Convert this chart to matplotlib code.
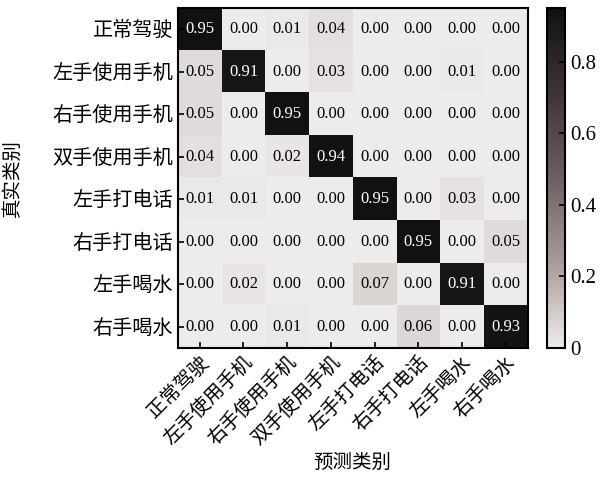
import numpy as np
import matplotlib
matplotlib.use('Agg')
import matplotlib.pyplot as plt
from matplotlib.colors import LinearSegmentedColormap

plt.rcParams['font.family'] = ['Liberation Serif', 'Noto Sans CJK SC']

# 类别
labels = ['正常驾驶', '左手使用手机', '右手使用手机', '双手使用手机',
          '左手打电话', '右手打电话', '左手喝水', '右手喝水']

# 混淆矩阵（归一化）
row0 = [0.95, 0.00, 0.01, 0.04, 0.00, 0.00, 0.00, 0.00]
row1 = [0.05, 0.91, 0.00, 0.03, 0.00, 0.00, 0.01, 0.00]
row2 = [0.05, 0.00, 0.95, 0.00, 0.00, 0.00, 0.00, 0.00]
row3 = [0.04, 0.00, 0.02, 0.94, 0.00, 0.00, 0.00, 0.00]
row4 = [0.01, 0.01, 0.00, 0.00, 0.95, 0.00, 0.03, 0.00]
row5 = [0.00, 0.00, 0.00, 0.00, 0.00, 0.95, 0.00, 0.05]
row6 = [0.00, 0.02, 0.00, 0.00, 0.07, 0.00, 0.91, 0.00]
row7 = [0.00, 0.00, 0.01, 0.00, 0.00, 0.06, 0.00, 0.93]
cm = np.array([row0, row1, row2, row3, row4, row5, row6, row7])

cmap = LinearSegmentedColormap.from_list(
    'graybrown', ['#eeeceb', '#a99b99', '#6e5e61', '#3d343a', '#111111'])

fig = plt.figure(figsize=(6.03, 4.9), dpi=100)
ax = fig.add_axes([0.295, 0.290, 0.580, 0.694])
cax = fig.add_axes([0.907, 0.290, 0.030, 0.694])

im = ax.imshow(cm, cmap=cmap, vmin=0, vmax=cm.max(), aspect='auto')

for i in range(cm.shape[0]):
    for j in range(cm.shape[1]):
        c = 'white' if cm[i, j] > 0.5 else 'black'
        ax.text(j, i, '%.2f' % cm[i, j], ha='center', va='center',
                color=c, fontsize=12)

ax.set_xticks(range(len(labels)))
ax.set_yticks(range(len(labels)))
ax.set_xticklabels(labels, rotation=45, ha='right', rotation_mode='anchor',
                   fontsize=14)
ax.set_yticklabels(labels, fontsize=14.5)
ax.tick_params(direction='in', length=4, width=1.2)
for s in ax.spines.values():
    s.set_linewidth(1.5)

ax.set_xlabel('预测类别', fontsize=14, labelpad=4)
ax.set_ylabel('真实类别', fontsize=14, labelpad=22)

cb = fig.colorbar(im, cax=cax)
cb.set_ticks([0, 0.2, 0.4, 0.6, 0.8])
cb.set_ticklabels(['0', '0.2', '0.4', '0.6', '0.8'])
cb.ax.tick_params(direction='in', length=4, width=1.2, labelsize=15)
cb.outline.set_linewidth(1.5)

plt.savefig('out.png')
